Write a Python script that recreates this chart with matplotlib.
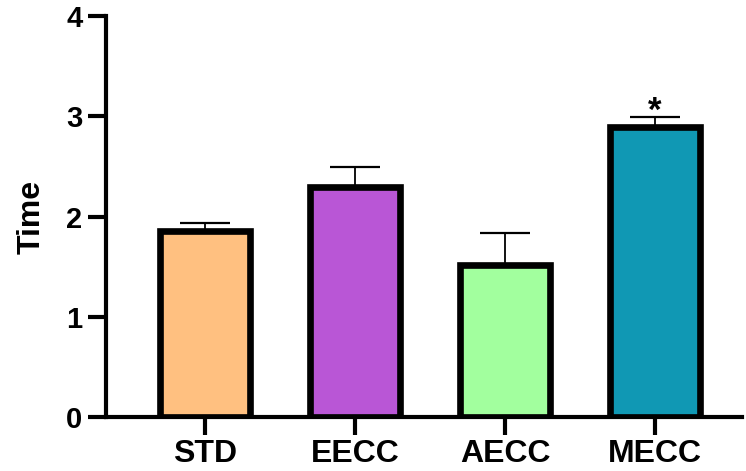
import matplotlib
matplotlib.use("Agg")
import matplotlib.pyplot as plt

categories = ["STD", "EECC", "AECC", "MECC"]
means = [1.86, 2.29, 1.52, 2.89]
errors = [0.08, 0.20, 0.32, 0.10]
colors = ["#FFC080", "#B956D6", "#A2FF9E", "#1098B4"]
sig_labels = ["", "", "", "*"]
yticks = [0, 1, 2, 3, 4]

plt.rcParams['font.family'] = ['Liberation Sans', 'DejaVu Sans']
plt.rcParams['font.weight'] = 'bold'

fig = plt.figure(figsize=(7.46, 4.71), dpi=100)
ax = fig.add_axes([0.1421, 0.1146, 0.8525, 0.8514])

x = list(range(len(categories)))
ax.errorbar(x, means, yerr=[[0]*len(errors), errors], fmt='none', ecolor='black',
            elinewidth=1.3, capsize=18, capthick=1.6, zorder=1)
ax.bar(x, means, width=0.6, color=colors, edgecolor='black', linewidth=4.8, zorder=2)

for xi, m, e, s in zip(x, means, errors, sig_labels):
    if s:
        ax.text(xi, m + e - 0.11, s, ha='center', va='bottom', fontsize=25,
                fontweight='bold', zorder=3)

ax.set_xlim(-0.66, 3.58)
ax.set_ylim(0, 4)
ax.set_yticks(yticks)
ax.set_yticklabels([str(t) for t in yticks], fontsize=21, fontweight='bold')
ax.set_xticks(x)
ax.set_xticklabels(categories, fontsize=23, fontweight='bold')
ax.set_ylabel("Time", fontsize=23, fontweight='bold', labelpad=14)

for side in ['top', 'right']:
    ax.spines[side].set_visible(False)
for side in ['left', 'bottom']:
    ax.spines[side].set_linewidth(3)
ax.tick_params(axis='both', length=13, width=3, pad=4)
ax.tick_params(axis='x', pad=3)

fig.savefig("out.png", dpi=100)
